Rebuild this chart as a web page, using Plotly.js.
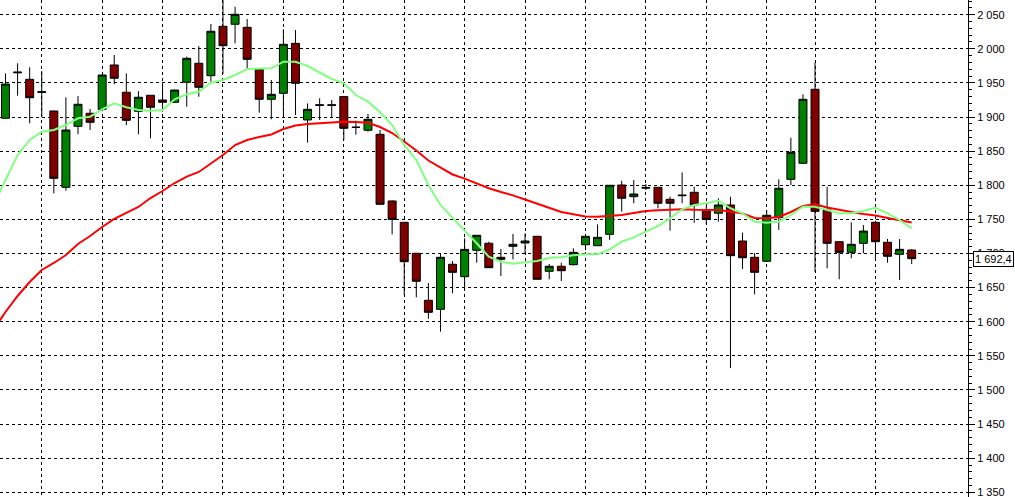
<!DOCTYPE html>
<html>
<head>
<meta charset="utf-8">
<script src="https://cdn.plot.ly/plotly-3.0.1.min.js"></script>
<style>
html,body{margin:0;padding:0;background:#fff;}
#chart{width:1015px;height:497px;}
</style>
</head>
<body>
<div id="chart"></div>
<script>
// ---- data ----
const barOpen  = [1898.2,1964.8,1955.3,1937.2,1908.9,1797.0,1886.4,1905.5,1911.3,1976.3,1936.3,1908.4,1931.9,1925.0,1921.6,1951.0,1978.8,1960.6,2033.0,2036.0,2031.5,1970.0,1926.0,1934.8,2008.0,1895.7,1918.1,1918.1,1930.0,1885.0,1880.6,1874.7,1777.0,1745.7,1700.3,1631.4,1618.2,1684.2,1666.0,1704.7,1715.0,1694.4,1710.5,1715.4,1725.2,1673.9,1681.3,1683.6,1712.9,1711.4,1728.1,1800.4,1783.3,1796.9,1797.0,1779.4,1785.8,1789.7,1762.3,1759.0,1771.1,1718.3,1694.4,1688.6,1752.5,1808.7,1832.2,1940.7,1763.8,1717.3,1701.7,1714.9,1745.7,1716.4,1698.8,1705.1];
const barHigh  = [1964.0,1978.8,1972.9,1967.5,1909.0,1929.0,1930.8,1911.8,1962.0,1991.0,1964.0,1938.0,1932.0,1949.5,1940.0,1988.5,2004.0,2036.4,2075.0,2061.7,2043.7,1970.0,1954.3,2028.6,2027.6,1920.0,1927.5,1925.0,1930.0,1894.7,1904.5,1881.0,1778.0,1746.0,1701.0,1656.8,1699.3,1689.0,1722.3,1727.0,1717.3,1706.6,1728.6,1729.6,1725.3,1684.6,1686.5,1707.6,1725.3,1742.7,1800.2,1806.7,1807.7,1801.9,1797.2,1783.3,1818.9,1797.9,1769.6,1780.9,1783.3,1730.5,1700.7,1763.7,1808.7,1869.7,1933.3,1979.6,1797.9,1717.5,1745.7,1741.8,1748.0,1721.3,1721.3,1706.0];
const barLow   = [1898.0,1931.3,1890.8,1900.5,1788.2,1792.0,1874.7,1881.0,1909.0,1948.0,1888.0,1874.7,1868.8,1908.0,1921.0,1915.2,1929.8,1951.8,1963.0,2008.0,1970.4,1906.4,1896.7,1903.0,1903.0,1862.4,1895.7,1899.6,1866.3,1874.0,1878.5,1772.0,1728.0,1639.0,1635.8,1604.4,1585.4,1641.7,1647.5,1686.5,1679.0,1667.0,1691.5,1700.3,1662.0,1662.2,1659.7,1682.7,1705.0,1711.0,1720.0,1761.3,1773.6,1793.0,1766.2,1733.4,1773.6,1745.1,1742.8,1746.6,1532.0,1677.3,1640.2,1688.0,1734.5,1800.4,1832.0,1673.3,1678.3,1662.2,1693.0,1700.3,1690.5,1686.5,1661.2,1684.6];
const barClose = [1948.4,1965.8,1928.3,1936.2,1810.2,1881.0,1918.7,1892.3,1961.6,1956.8,1895.2,1929.0,1914.3,1921.6,1939.6,1986.1,1943.6,2025.7,2004.6,2050.6,1984.6,1926.0,1933.3,2006.6,1949.5,1911.3,1917.1,1917.1,1883.5,1885.0,1896.7,1772.1,1750.0,1688.0,1659.3,1613.8,1694.4,1672.4,1706.0,1726.7,1679.2,1691.5,1713.5,1718.3,1662.2,1681.3,1674.8,1701.7,1725.2,1723.7,1800.0,1781.0,1787.2,1795.9,1773.6,1773.6,1784.8,1771.1,1750.0,1771.1,1696.8,1693.8,1672.4,1756.0,1795.6,1848.3,1926.0,1761.8,1714.9,1701.7,1713.5,1732.9,1717.3,1695.9,1706.1,1692.4];

// moving averages, first value belongs to the bar just left of the visible window
const maFast = [1771.1,1807.7,1844.4,1866.4,1878.5,1881.0,1888.3,1898.2,1900.5,1911.3,1920.1,1914.3,1910.3,1909.3,1910.3,1926.0,1933.3,1937.1,1950.3,1954.3,1961.6,1970.4,1970.4,1971.4,1981.1,1981.1,1974.8,1965.0,1955.8,1949.5,1932.3,1922.5,1907.0,1888.3,1859.0,1837.0,1800.4,1771.1,1751.6,1733.4,1715.0,1695.3,1688.0,1685.0,1687.1,1689.0,1693.8,1694.4,1697.4,1698.8,1698.8,1706.2,1717.3,1723.7,1732.0,1740.3,1751.6,1764.8,1771.1,1773.6,1777.4,1766.3,1758.9,1746.6,1745.1,1746.6,1756.4,1768.6,1768.6,1763.8,1758.9,1758.9,1762.3,1767.1,1758.9,1749.1,1736.9];
const maSlow = [1587.9,1614.3,1637.7,1658.2,1675.8,1686.1,1697.8,1713.9,1725.6,1738.8,1750.6,1759.4,1768.2,1781.3,1791.6,1803.3,1812.6,1819.5,1832.6,1844.4,1859.0,1866.4,1870.8,1874.4,1882.5,1887.6,1889.8,1890.8,1892.0,1893.2,1892.7,1891.7,1885.4,1876.6,1864.2,1851.0,1836.3,1826.0,1815.8,1809.8,1802.7,1795.7,1790.1,1785.2,1779.1,1772.7,1766.7,1760.8,1757.6,1754.1,1753.9,1755.0,1756.4,1759.4,1762.3,1763.3,1764.2,1764.8,1764.2,1763.8,1763.8,1761.6,1758.6,1752.0,1751.6,1753.5,1760.8,1769.6,1772.1,1767.4,1763.8,1760.8,1757.9,1755.7,1752.0,1749.1,1745.4];

// bar indices where the vertical (period) grid lines fall
const periodLines = [3,8,13,18,23,28,33,38,43,48,53,58,63,67,72];

// ---- build ----
const barX = barClose.map((_, i) => i);
const maX = maFast.map((_, i) => i - 1);

function fmtPrice(v) {
  const s = v.toFixed(1).split('.');
  const intPart = s[0].replace(/\B(?=(\d{3})+(?!\d))/g, ' ');
  return intPart + ',' + s[1];
}
const lastClose = barClose[barClose.length - 1];

const traces = [
  {type:'scatter', mode:'lines', x:maX, y:maSlow, line:{color:'#ff0000', width:2}, hoverinfo:'skip'},
  {type:'scatter', mode:'lines', x:maX, y:maFast, line:{color:'#80ff80', width:2}, hoverinfo:'skip'},
  {type:'candlestick', x:barX, open:barOpen, high:barHigh, low:barLow, close:barClose,
   increasing:{fillcolor:'#008000', line:{color:'#000000', width:1}},
   decreasing:{fillcolor:'#800000', line:{color:'#000000', width:1}},
   whiskerwidth:0, hoverinfo:'skip'}
];

const layout = {
  width:1015, height:497,
  margin:{l:0, r:47, t:0, b:0, pad:0},
  paper_bgcolor:'#ffffff', plot_bgcolor:'#ffffff',
  showlegend:false,
  separators:', ',
  boxgap:0.34, boxgroupgap:0,
  font:{family:'Liberation Sans, Arial, sans-serif', size:11, color:'#000'},
  xaxis:{
    range:[-0.455, 79.66], rangeslider:{visible:false},
    tickmode:'array', tickvals:periodLines, showticklabels:false, ticks:'',
    showgrid:true, gridcolor:'#000', gridwidth:1, griddash:'3px,3px',
    zeroline:false, showline:false, fixedrange:true
  },
  yaxis:{
    side:'right', range:[1343.1, 2071.55],
    tick0:0, dtick:50, tickformat:',d',
    ticks:'outside', ticklen:6, tickcolor:'#000', tickwidth:1,
    ticklabeloverflow:'allow',
    minor:{dtick:10, ticks:'outside', ticklen:3, tickcolor:'#000', showgrid:false},
    showgrid:true, gridcolor:'#000', gridwidth:1, griddash:'3px,3px',
    showline:true, linecolor:'#000', linewidth:1,
    zeroline:false, fixedrange:true,
    tickfont:{family:'Liberation Sans, Arial, sans-serif', size:11, color:'#000'}
  },
  annotations:[{
    xref:'paper', yref:'y', x:1.0052, y:lastClose,
    xanchor:'left', yanchor:'middle', showarrow:false,
    text:fmtPrice(lastClose),
    font:{family:'Liberation Sans, Arial, sans-serif', size:11, color:'#000'},
    bgcolor:'#ffffff', bordercolor:'#000', borderwidth:1, borderpad:1
  }]
};

Plotly.newPlot('chart', traces, layout, {staticPlot:true, displayModeBar:false});
</script>
</body>
</html>
